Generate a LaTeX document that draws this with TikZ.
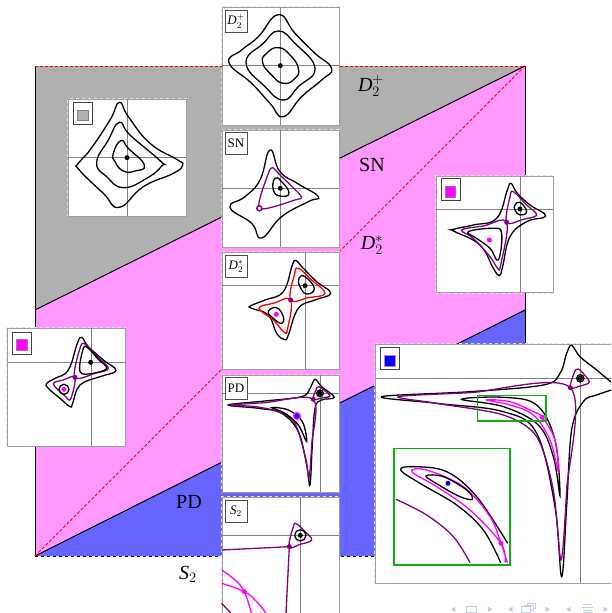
\documentclass[tikz,border=0pt]{standalone}
\usepackage{fontspec}
\setmainfont{Liberation Serif}
\usetikzlibrary{shapes.geometric, arrows, positioning}
\definecolor{regionGray}{HTML}{B0B0B0}
\definecolor{regionPink}{HTML}{FF99FF}
\definecolor{regionBlue}{HTML}{6666FF}
\definecolor{sepPurple}{HTML}{800080}
\definecolor{hopfPink}{HTML}{FF00FF}
\definecolor{pureBlue}{HTML}{0000FF}
\definecolor{pureRed}{HTML}{FF0000}
\definecolor{insetGreen}{HTML}{10B010}
\definecolor{navBlue}{HTML}{C4CAE4}
\begin{document}
\begin{tikzpicture}[x=1pt,y=-1pt]
\tikzstyle{panel} = [rectangle, anchor=north west, outer sep=0pt, inner sep=0pt,
    draw=gray!75, fill=white, line width=1pt,
    preaction={draw=white!75!gray, dashed, line width=2.4pt}]
\tikzstyle{tag} = [rectangle, draw=black!70, fill=white, line width=0.6pt,
    minimum width=22pt, minimum height=22pt, inner sep=0pt,
    font=\fontsize{13}{14}\selectfont]
\tikzstyle{swatch} = [rectangle, draw=black!75, fill=white, line width=0.6pt,
    minimum width=19pt, minimum height=22pt, inner sep=0pt]
\tikzstyle{cross} = [gray, line width=0.9pt]
\tikzstyle{orbit} = [black, line width=1.3pt]
\tikzstyle{sep} = [sepPurple, line width=1.3pt]
\tikzstyle{hopf} = [hopfPink, line width=1.3pt]
\tikzstyle{dot} = [circle, minimum size=5pt, inner sep=0pt]
\tikzstyle{blacklabel} = [font=\fontsize{20}{22}\selectfont, inner sep=0pt]
\useasboundingbox (0,0) rectangle (611,613);
\clip (0,0) rectangle (611,613);

% --- parameter plane ---
\fill [regionGray] (35,66) -- (525,66) -- (35,310) -- cycle;
\fill [regionPink] (35,310) -- (525,66) -- (525,310) -- (35,556) -- cycle;
\fill [regionBlue] (35,556) -- (525,310) -- (525,556) -- cycle;
\draw [black, line width=1pt] (35,66) -- (35,556);
\draw [black, line width=1pt] (525,66) -- (525,556);
\draw [black, line width=1pt] (35,310) -- (525,66);
\draw [black, line width=1pt] (35,556) -- (525,310);
\draw [black, dashed, line width=1pt] (35,556) -- (525,556);
\draw [pureRed, densely dashed, line width=1pt] (35,66) -- (525,66);
\draw [pureRed, densely dashed, line width=1pt] (35,556) -- (525,66);

\node (lblPlus) [blacklabel] at (371,86) {\textit{D}$_2^+$};
\node (lblSN) [blacklabel] at (372,165) {SN};
\node (lblStar) [blacklabel] at (372,245) {\textit{D}$_2^*$};
\node (lblPD) [blacklabel] at (189,502) {PD};
\node (lblS) [blacklabel] at (188,574) {\textit{S}$_2$};

% --- gray region ---
\node (pnlGray) [panel, minimum width=118pt, minimum height=117pt] at (68,99) {};
\begin{scope}[shift={(60,90)},scale=0.3333]
\draw [cross] (25,203) -- (378,203);
\draw [cross] (202,27) -- (202,378);
\draw [orbit] plot[smooth cycle, tension=0.8] coordinates {(178,37) (205,80) (270,160) (350,208) (368,225) (340,250) (250,290) (178,352) (130,310) (58,240) (55,220) (90,180) (150,90)};
\draw [orbit] plot[smooth cycle, tension=0.8] coordinates {(178,97) (210,135) (300,212) (305,228) (260,265) (190,293) (140,260) (110,218) (145,150)};
\draw [orbit] plot[smooth cycle, tension=0.9] coordinates {(183,152) (205,175) (253,225) (225,243) (190,243) (165,215) (160,190)};
\node (dotGray) [dot, fill=black] at (201,203) {};
\node (swGray) [swatch] at (68,69) {};
\fill [regionGray, draw=gray] (53,60) rectangle (85,92);
\end{scope}

% --- pink region, right ---
\node (pnlRight) [panel, minimum width=117pt, minimum height=116pt] at (436,176.5) {};
\begin{scope}[shift={(430,170)},scale=0.3333]
\draw [cross] (18,117) -- (368,117);
\draw [cross] (270,17) -- (270,367);
\draw [orbit] plot[smooth cycle, tension=0.7] coordinates {(243,40) (262,70) (300,105) (347,138) (290,155) (240,200) (218,290) (208,317) (190,295) (150,225) (75,185) (70,178) (130,165) (200,145) (232,60)};
\draw [sep] plot[smooth cycle, tension=0.6] coordinates {(230,157) (240,80) (250,65) (290,105) (320,135) (280,148)};
\draw [sep] plot[smooth cycle, tension=0.6] coordinates {(230,157) (212,285) (203,295) (180,260) (130,205) (95,180) (160,168)};
\draw [orbit] plot[smooth cycle, tension=0.8] coordinates {(255,105) (270,97) (290,125) (270,135) (255,120)};
\draw [orbit] plot[smooth cycle, tension=0.7] coordinates {(115,185) (190,175) (215,190) (205,270) (180,235) (140,205)};
\node (dotRa) [dot, fill=black] at (270,117) {};
\node (dotRb) [dot, fill=hopfPink] at (178,210) {};
\node (dotRc) [dot, fill=sepPurple] at (230,157) {};
\node (swRight) [swatch] at (61,59) {};
\fill [hopfPink, draw=sepPurple!60] (45,48) rectangle (77,82);
\end{scope}

% --- pink region, left ---
\node (pnlLeft) [panel, minimum width=118pt, minimum height=118pt] at (7,328) {};
\begin{scope}[shift={(0,320)},scale=0.3333]
\draw [cross] (22,127) -- (378,127);
\draw [cross] (273,25) -- (273,378);
\draw [orbit] plot[smooth cycle, tension=0.7] coordinates {(245,52) (265,80) (310,120) (348,152) (300,170) (240,195) (218,250) (210,260) (180,235) (145,205) (140,190) (165,175) (205,150) (232,70)};
\draw [sep] plot[smooth cycle, tension=0.6] coordinates {(225,172) (240,85) (255,72) (290,108) (325,145) (290,158)};
\draw [sep] plot[smooth cycle, tension=0.6] coordinates {(225,172) (212,237) (195,228) (160,192) (190,180)};
\draw [orbit] plot[smooth cycle, tension=0.6] coordinates {(250,85) (265,85) (295,118) (320,145) (280,160) (240,155)};
\draw [orbit] (192,208) circle [radius=15];
\node (dotLa) [dot, fill=black] at (272,127) {};
\node (dotLb) [dot, fill=hopfPink] at (192,208) {};
\node (dotLc) [dot, fill=sepPurple] at (225,172) {};
\node (swLeft) [swatch] at (66,69) {};
\fill [hopfPink, draw=sepPurple!60] (49,58) rectangle (81,90);
\end{scope}

% --- column of panels ---
\node (pnlPlus) [panel, minimum width=117pt, minimum height=118pt] at (222,7) {};
\begin{scope}[shift={(215,0)},scale=0.3333]
\draw [cross] (20,197) -- (372,197);
\draw [cross] (196,22) -- (196,375);
\draw [orbit] plot[smooth cycle, tension=0.8] coordinates {(190,44) (240,100) (300,160) (350,205) (320,240) (260,290) (205,350) (165,310) (110,250) (42,188) (80,150) (130,110)};
\draw [orbit] plot[smooth cycle, tension=0.8] coordinates {(190,93) (240,130) (300,205) (250,260) (205,300) (150,260) (93,188) (145,130)};
\draw [orbit] plot[smooth cycle, tension=0.9] coordinates {(190,143) (225,165) (250,205) (240,235) (205,250) (170,225) (143,188) (155,160)};
\node (dotPlus) [dot, fill=black] at (196,197) {};
\node (tagPlus) [tag] at (63,64) {\textit{D}$_2^+$};
\end{scope}

\node (pnlSN) [panel, minimum width=117pt, minimum height=117pt] at (222,130) {};
\begin{scope}[shift={(215,0)},scale=0.3333]
\draw [cross] (20,565) -- (372,565);
\draw [cross] (196,390) -- (196,742);
\draw [orbit] plot[smooth cycle, tension=0.8] coordinates {(165,450) (195,515) (250,552) (310,590) (280,605) (200,650) (140,714) (110,670) (45,622) (90,590) (135,540)};
\draw [sep] plot[smooth cycle, tension=0.45] coordinates {(133,625) (160,520) (173,503) (195,525) (258,588) (240,600)};
\draw [orbit] plot[smooth cycle, tension=0.9] coordinates {(180,535) (200,545) (222,580) (195,588) (175,570)};
\node (dotSN) [dot, fill=black] at (196,565) {};
\node (ringSN) [circle, draw=sepPurple, fill=white, line width=1.5pt, minimum size=5pt, inner sep=0pt] at (133,625) {};
\node (tagSN) [tag] at (63,431) {SN};
\end{scope}

\node (pnlStar) [panel, minimum width=117pt, minimum height=117pt] at (222,252) {};
\begin{scope}[shift={(215,245)},scale=0.3333]
\draw [cross] (20,122) -- (372,122);
\draw [cross] (271,22) -- (271,372);
\draw [orbit] plot[smooth cycle, tension=0.7] coordinates {(243,47) (265,70) (305,110) (347,145) (300,165) (250,190) (220,270) (210,284) (185,265) (160,210) (110,190) (108,182) (150,165) (205,140) (232,60)};
\draw [pureRed, line width=1.3pt] plot[smooth cycle, tension=0.7] coordinates {(227,165) (238,90) (250,70) (290,105) (330,145) (280,158)};
\draw [pureRed, line width=1.3pt] plot[smooth cycle, tension=0.7] coordinates {(227,165) (218,250) (208,262) (175,225) (132,190) (175,175)};
\draw [orbit] plot[smooth cycle, tension=0.8] coordinates {(252,100) (270,95) (298,130) (275,147) (255,125)};
\draw [orbit] plot[smooth cycle, tension=0.8] coordinates {(160,200) (185,188) (205,215) (200,235) (175,220)};
\node (dotSa) [dot, fill=black] at (270,122) {};
\node (dotSb) [dot, fill=hopfPink] at (184,208) {};
\node (dotSc) [dot, fill=sepPurple] at (227,165) {};
\node (tagStar) [tag] at (63,64) {\textit{D}$_2^*$};
\end{scope}

\node (pnlPD) [panel, minimum width=117pt, minimum height=117pt] at (222,375) {};
\begin{scope}[shift={(215,245)},scale=0.3333]
\draw [cross] (20,445) -- (372,445);
\draw [cross] (316,390) -- (316,742);
\draw [orbit] plot[smooth cycle, tension=0.6] coordinates {(300,403) (320,425) (358,457) (320,465) (300,490) (292,600) (285,720) (275,660) (250,560) (200,505) (130,490) (40,480) (150,468) (260,455) (285,430)};
\draw [sep] plot[smooth cycle, tension=0.55] coordinates {(295,463) (303,435) (312,425) (345,452) (325,458)};
\draw [sep] plot[smooth cycle, tension=0.5] coordinates {(295,463) (290,600) (282,700) (272,640) (240,535) (190,500) (120,485) (50,480) (150,473)};
\draw [orbit] plot[smooth cycle, tension=0.6] coordinates {(170,488) (220,495) (262,530) (275,590) (250,540) (210,505)};
\draw [orbit] (315,445) circle [radius=10];
\node (dotPa) [dot, fill=black] at (315,445) {};
\node (dotPb) [dot, fill=pureBlue, draw=hopfPink, line width=1.3pt, minimum size=6.5pt] at (246,513) {};
\node (dotPc) [dot, fill=sepPurple] at (295,463) {};
\node (tagPD) [tag] at (63,431) {PD};
\end{scope}

\node (pnlS) [panel, minimum width=117pt, minimum height=140pt] at (222,497) {};
\begin{scope}[shift={(215,490)},scale=0.3333]
\draw [cross] (20,136) -- (372,136);
\draw [cross] (256,22) -- (256,400);
\draw [sep] plot[smooth cycle, tension=0.7] coordinates {(223,170) (235,110) (245,102) (270,125) (290,150) (255,163)};
\draw [sep] (20,180) -- (223,170) -- (213,372);
\draw [hopf] plot[smooth, tension=0.7] coordinates {(20,240) (60,270) (88,305) (110,372)};
\draw [hopf] plot[smooth, tension=0.7] coordinates {(20,280) (88,305) (125,335) (155,372)};
\draw [sep] (20,340) -- (50,372);
\draw [orbit] (256,136) circle [radius=17];
\node (dotTa) [dot, fill=black] at (256,136) {};
\node (dotTb) [dot, fill=sepPurple] at (223,170) {};
\node (dotTc) [dot, fill=hopfPink] at (88,305) {};
\node (tagS) [tag] at (63,64) {\textit{S}$_2$};
\end{scope}

% --- blue region, enlarged ---
\node (pnlBlue) [panel, minimum width=260pt, minimum height=239pt] at (375,344) {};
\begin{scope}[shift={(370,340)},scale=0.3333]
\draw [cross] (14,115) -- (760,115);
\draw [cross] (631,13) -- (631,730);
\draw [orbit] plot[smooth, tension=0.6] coordinates {(740,140) (680,90) (630,50) (605,16) (590,40) (570,100) (520,135) (300,155) (35,170) (200,190) (400,215) (500,280) (555,500) (575,710) (590,500) (605,270) (640,185) (680,165) (740,145)};
\draw [sep] plot[smooth cycle, tension=0.55] coordinates {(601,143) (612,100) (625,87) (658,125) (630,138)};
\draw [sep] plot[smooth cycle, tension=0.5] coordinates {(601,143) (590,450) (573,660) (550,450) (500,290) (400,225) (200,190) (85,170) (300,158)};
\draw [orbit] plot[smooth cycle, tension=0.6] coordinates {(275,178) (400,172) (500,195) (555,300) (570,468) (550,350) (505,255) (400,200)};
\draw [hopf] plot[smooth cycle, tension=0.6] coordinates {(350,180) (420,185) (490,215) (517,232) (555,300) (565,395) (540,300) (490,225) (420,195)};
\draw [orbit] (631,115) circle [radius=11];
\draw [orbit] (631,115) circle [radius=6];
\node (dotBa) [dot, fill=black, minimum size=3pt] at (631,115) {};
\node (dotBb) [dot, fill=sepPurple] at (601,143) {};
\node (dotBc) [dot, fill=hopfPink] at (517,232) {};
\draw [insetGreen, line width=1.1pt] (322,166) rectangle (528,243);
\fill [white, draw=insetGreen, line width=1.1pt] (72,325) rectangle (420,675);
\draw [orbit] plot[smooth, tension=0.6] coordinates {(413,610) (320,470) (230,395) (130,380) (92,390) (150,430) (260,495) (340,570) (392,668)};
\draw [hopf] plot[smooth, tension=0.6] coordinates {(412,668) (393,610) (360,530) (280,440) (170,390) (125,395) (200,440) (300,510) (393,610) (405,668)};
\draw [orbit] plot[smooth cycle, tension=0.6] coordinates {(168,408) (220,410) (290,450) (307,478) (270,470) (210,437)};
\draw [sep] plot[smooth, tension=0.6] coordinates {(78,478) (170,525) (250,590) (300,668)};
\node (dotBd) [dot, fill=pureBlue] at (234,430) {};
\node (dotBe) [dot, fill=hopfPink] at (393,610) {};
\node (swBlue) [swatch] at (59,56) {};
\fill [pureBlue, draw=sepPurple!50] (42,45) rectangle (76,79);
\end{scope}

% --- navigation symbols ---
\begin{scope}[shift={(370,340)},scale=0.3333]
\fill [navBlue] (243,808) -- (256,800) -- (256,816) -- cycle;
\draw [navBlue, line width=0.8pt] (290,800) rectangle (318,816);
\fill [navBlue] (367,808) -- (354,800) -- (354,816) -- cycle;
\fill [navBlue] (415,808) -- (428,800) -- (428,816) -- cycle;
\draw [navBlue, line width=0.8pt] (455,800) rectangle (482,816);
\draw [navBlue, line width=0.8pt] (464,800) -- (464,795) -- (489,795) -- (489,810) -- (482,810);
\draw [navBlue, line width=0.8pt] (473,795) -- (473,790) -- (495,790) -- (495,804) -- (489,804);
\fill [navBlue] (540,808) -- (527,800) -- (527,816) -- cycle;
\fill [navBlue] (589,808) -- (602,800) -- (602,816) -- cycle;
\draw [navBlue, line width=1pt] (640,794) -- (665,794);
\draw [navBlue, line width=1pt] (636,803) -- (668,803);
\draw [navBlue, line width=1pt] (640,812) -- (665,812);
\draw [navBlue, line width=1pt] (640,819) -- (668,819);
\fill [navBlue] (714,808) -- (701,800) -- (701,816) -- cycle;
\end{scope}
\end{tikzpicture}
\end{document}
